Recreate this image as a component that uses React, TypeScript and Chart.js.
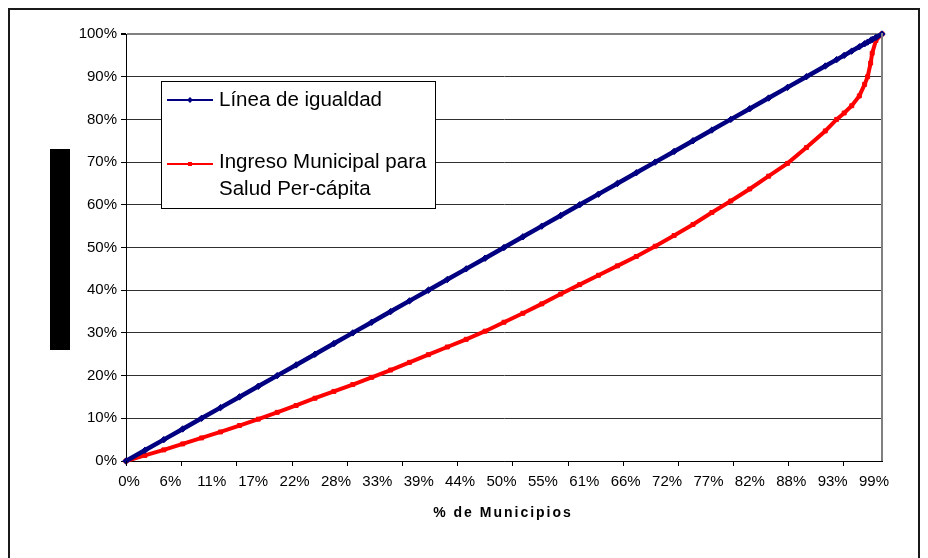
import React, { useEffect, useRef } from "react";
import { Chart, registerables } from "chart.js";

Chart.register(...registerables);

// ---- data ----
const populationShare = [
  0, 0.025, 0.05, 0.075, 0.1, 0.125, 0.15, 0.175, 0.2, 0.225, 0.25, 0.275, 0.3,
  0.325, 0.35, 0.375, 0.4, 0.425, 0.45, 0.475, 0.5, 0.525, 0.55, 0.575, 0.6,
  0.625, 0.65, 0.675, 0.7, 0.725, 0.75, 0.775, 0.8, 0.825, 0.85, 0.875, 0.9,
  0.925, 0.94, 0.95, 0.96, 0.97, 0.977, 0.981, 0.985, 0.987, 0.992, 1,
];
const equalityShare = [
  0, 0.025, 0.05, 0.075, 0.1, 0.125, 0.15, 0.175, 0.2, 0.225, 0.25, 0.275, 0.3,
  0.325, 0.35, 0.375, 0.4, 0.425, 0.45, 0.475, 0.5, 0.525, 0.55, 0.575, 0.6,
  0.625, 0.65, 0.675, 0.7, 0.725, 0.75, 0.775, 0.8, 0.825, 0.85, 0.875, 0.9,
  0.925, 0.94, 0.95, 0.96, 0.97, 0.977, 0.981, 0.985, 0.987, 0.992, 1,
];
const incomeShare = [
  0, 0.013, 0.026, 0.04, 0.054, 0.068, 0.083, 0.098, 0.114, 0.13, 0.147, 0.163,
  0.179, 0.196, 0.213, 0.231, 0.249, 0.267, 0.285, 0.304, 0.325, 0.346, 0.368,
  0.391, 0.413, 0.435, 0.457, 0.479, 0.503, 0.528, 0.554, 0.582, 0.609, 0.637,
  0.667, 0.697, 0.734, 0.773, 0.8, 0.815, 0.832, 0.855, 0.882, 0.9, 0.932,
  0.955, 0.985, 1,
];
const xTickLabels = [
  "0%", "6%", "11%", "17%", "22%", "28%", "33%", "39%", "44%", "50%", "55%",
  "61%", "66%", "72%", "77%", "82%", "88%", "93%", "99%",
];
const seriesNames = ["Línea de igualdad", "Ingreso Municipal para Salud Per-cápita"];
const legendLines = [["Línea de igualdad"], ["Ingreso Municipal para", "Salud Per-cápita"]];
const xAxisTitle = "% de Municipios";

// ---- axis layout settings ----
const xLabelStep = 0.05475;
const xTickMarkStep = 0.073;
const FONT = "'Liberation Sans', Arial, sans-serif";

const decorPlugin = {
  id: "decor",
  afterDraw(chart: any) {
    const ctx = chart.ctx as CanvasRenderingContext2D;
    const { left, right, top, bottom } = chart.chartArea;
    const xs = chart.scales.x;
    ctx.save();

    // plot area right border
    ctx.strokeStyle = "#808080";
    ctx.lineWidth = 2;
    ctx.beginPath();
    ctx.moveTo(right, top - 1);
    ctx.lineTo(right, bottom);
    ctx.stroke();

    // x tick marks (independent interval from labels)
    ctx.strokeStyle = "#000";
    ctx.lineWidth = 1;
    for (let v = 0; v < 0.97; v += xTickMarkStep) {
      const px = Math.round(xs.getPixelForValue(v)) + 0.5;
      ctx.beginPath();
      ctx.moveTo(px, bottom);
      ctx.lineTo(px, bottom + 5);
      ctx.stroke();
    }

    // redacted y-axis title block
    ctx.fillStyle = "#000";
    ctx.fillRect(left - 76, top + 115, 20, 201);

    // x axis title
    ctx.font = `bold 14px ${FONT}`;
    (ctx as any).letterSpacing = "2px";
    ctx.textAlign = "center";
    ctx.textBaseline = "alphabetic";
    ctx.fillStyle = "#000";
    ctx.fillText(xAxisTitle, (left + right) / 2 - 1, bottom + 56);
    (ctx as any).letterSpacing = "0px";

    // legend box
    const bx = left + 35, by = top + 47, bw = 274, bh = 127;
    ctx.fillStyle = "#fff";
    ctx.fillRect(bx, by, bw, bh);
    ctx.strokeStyle = "#000";
    ctx.lineWidth = 1;
    ctx.strokeRect(bx + 0.5, by + 0.5, bw, bh);

    const entries = [
      { lineY: by + 19, baselines: [by + 25] },
      { lineY: by + 83, baselines: [by + 86.5, by + 113.5] },
    ];
    chart.data.datasets.forEach((ds: any, i: number) => {
      const e = entries[i];
      if (!e) return;
      ctx.strokeStyle = ds.borderColor;
      ctx.lineWidth = 2;
      ctx.beginPath();
      ctx.moveTo(bx + 6, e.lineY);
      ctx.lineTo(bx + 52, e.lineY);
      ctx.stroke();
      ctx.fillStyle = ds.borderColor;
      const mx = bx + 29, my = e.lineY;
      if (ds.pointStyle === "rectRot") {
        ctx.beginPath();
        ctx.moveTo(mx, my - 3);
        ctx.lineTo(mx + 3, my);
        ctx.lineTo(mx, my + 3);
        ctx.lineTo(mx - 3, my);
        ctx.closePath();
        ctx.fill();
      } else {
        ctx.fillRect(mx - 2, my - 2, 4, 4);
      }
      ctx.fillStyle = "#000";
      ctx.font = `20.5px ${FONT}`;
      ctx.textAlign = "left";
      ctx.textBaseline = "alphabetic";
      legendLines[i].forEach((t, j) => ctx.fillText(t, bx + 58, e.baselines[j]));
    });

    ctx.restore();
  },
};

export default function App() {
  const ref = useRef<HTMLCanvasElement | null>(null);

  useEffect(() => {
    if (!ref.current) return;
    Chart.defaults.font.family = FONT;
    const chart = new Chart(ref.current, {
      type: "line",
      data: {
        datasets: [
          {
            label: seriesNames[0],
            data: populationShare.map((x, i) => ({ x, y: equalityShare[i] })),
            borderColor: "#000080",
            backgroundColor: "#000080",
            pointBackgroundColor: "#000080",
            pointBorderColor: "#000080",
            borderWidth: 4.5,
            pointStyle: "rectRot",
            pointRadius: 3.2,
            pointBorderWidth: 1,
            tension: 0,
            clip: false as any,
          },
          {
            label: seriesNames[1],
            data: populationShare.map((x, i) => ({ x, y: incomeShare[i] })),
            borderColor: "#ff0000",
            backgroundColor: "#ff0000",
            pointBackgroundColor: "#ff0000",
            pointBorderColor: "#ff0000",
            borderWidth: 4,
            pointStyle: "rect",
            pointRadius: 2.8,
            pointBorderWidth: 1,
            tension: 0,
            clip: false as any,
          },
        ],
      },
      options: {
        animation: false,
        responsive: false,
        devicePixelRatio: 1,
        layout: { padding: { top: 24, right: 36, left: 0, bottom: 0 } },
        plugins: {
          legend: { display: false },
          tooltip: { enabled: false },
        },
        scales: {
          x: {
            type: "linear",
            min: 0,
            max: 1,
            afterBuildTicks: (axis: any) => {
              axis.ticks = xTickLabels.map((_, i) => ({ value: i * xLabelStep }));
            },
            afterFit: (axis: any) => {
              axis.height = 99;
            },
            ticks: {
              autoSkip: false,
              maxRotation: 0,
              minRotation: 0,
              padding: 12,
              labelOffset: 3,
              color: "#000",
              font: { size: 15 },
              callback: (_v: any, i: number) => xTickLabels[i],
            },
            grid: { display: true, drawOnChartArea: false, drawTicks: false },
            border: { color: "#000", width: 1 },
          },
          y: {
            min: 0,
            max: 1,
            afterFit: (axis: any) => {
              axis.width = 116;
            },
            ticks: {
              stepSize: 0.1,
              padding: 4,
              color: "#000",
              font: { size: 15 },
              callback: (v: any) => `${Math.round(Number(v) * 100)}%`,
            },
            grid: {
              color: (c: any) => (c.tick && c.tick.value >= 0.999 ? "#808080" : "#303030"),
              lineWidth: (c: any) => (c.tick && c.tick.value >= 0.999 ? 2 : 1),
              tickLength: 5,
              tickColor: "#000",
            },
            border: { color: "#000", width: 1 },
          },
        },
      },
      plugins: [decorPlugin],
    });
    return () => chart.destroy();
  }, []);

  return (
    <div
      style={{
        width: 908,
        height: 550,
        border: "2px solid #1a1a1a",
        background: "#fff",
      }}
    >
      <canvas ref={ref} width={908} height={550} style={{ display: "block" }} />
    </div>
  );
}
